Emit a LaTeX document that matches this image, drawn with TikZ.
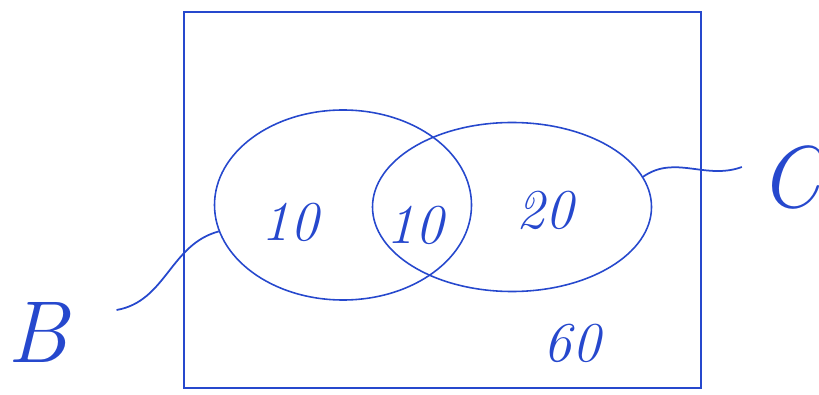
\documentclass[tikz,border=0pt]{standalone}
\usepackage{tikz}
\usetikzlibrary{shapes.geometric}
\definecolor{inkblue}{RGB}{38,72,205}
\tikzset{
  frame/.style={
    draw=inkblue,
    line width=1pt,
    minimum width=10.34cm,
    minimum height=7.52cm,
    inner sep=0pt
  },
  setring/.style={
    ellipse,
    draw=inkblue,
    line width=0.9pt,
    inner sep=0pt
  },
  countlabel/.style={
    text=inkblue,
    inner sep=0pt,
    font=\fontsize{32}{32}\selectfont\itshape
  },
  setname/.style={
    text=inkblue,
    inner sep=0pt,
    font=\fontsize{50}{50}\selectfont\itshape
  },
  inkline/.style={
    draw=inkblue,
    line width=1pt
  }
}

\begin{document}
\begin{tikzpicture}
  \useasboundingbox (0,0) rectangle (16.38,7.88);
  \node[frame] (universe) at (8.85,3.88) {};
  \node[setring, minimum width=5.14cm, minimum height=3.8cm] (bset) at (6.86,3.78) {};
  \node[setring, minimum width=5.58cm, minimum height=3.38cm] (cset) at (10.24,3.74) {};
  \node[countlabel] (onlyb) at (5.80,3.44) {10};
  \node[countlabel] (both) at (8.30,3.38) {10};
  \node[countlabel] (onlyc) at (10.90,3.68) {20};
  \node[countlabel] (neither) at (11.44,1.02) {60};
  \node[setname] (lblB) at (0.76,1.24) {B};
  \node[setname] (lblC) at (15.80,4.34) {C};
  \draw[inkline] ([xshift=0.96cm,yshift=0.44cm]lblB.east) to[out=10,in=195] (bset.192);
  \draw[inkline] (cset.13) to[out=35,in=200] ([xshift=-0.34cm,yshift=0.2cm]lblC.west);
\end{tikzpicture}
\end{document}
